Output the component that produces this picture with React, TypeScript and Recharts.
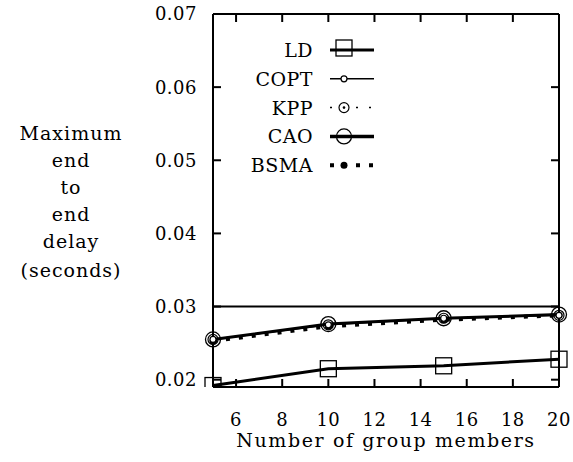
import { LineChart, Line, XAxis, YAxis, ReferenceLine } from "recharts";

const members = [5, 10, 15, 20];
const ld = [0.0192, 0.0215, 0.0219, 0.0228];
const copt = [0.0255, 0.0275, 0.0284, 0.0288];
const kpp = [0.0255, 0.0275, 0.0284, 0.0288];
const cao = [0.0255, 0.0276, 0.0284, 0.0289];
const bsma = [0.0253, 0.0273, 0.0282, 0.0288];

const xTicks = [6, 8, 10, 12, 14, 16, 18, 20];
const yTicks = [0.02, 0.03, 0.04, 0.05, 0.06, 0.07];
const yLabelLines = ["Maximum", "end", "to", "end", "delay", "(seconds)"];
const xTitle = "Number of group members";

const data = members.map((m, i) => ({
  m,
  ld: ld[i],
  copt: copt[i],
  kpp: kpp[i],
  cao: cao[i],
  bsma: bsma[i],
}));

const FONT = "'DejaVu Serif', serif";
const ink = "#000";

const squareDot = (p: any) => (
  <rect key={`sq-${p.index}`} x={p.cx - 8} y={p.cy - 8} width={16} height={16} fill="none" stroke={ink} strokeWidth={1.3} />
);
const smallCircle = (p: any) => (
  <circle key={`sc-${p.index}`} cx={p.cx} cy={p.cy} r={3} fill="#fff" stroke={ink} strokeWidth={1.2} />
);
const dotCircle = (p: any) => (
  <g key={`dc-${p.index}`}>
    <circle cx={p.cx} cy={p.cy} r={5} fill="none" stroke={ink} strokeWidth={1.2} />
    <circle cx={p.cx} cy={p.cy} r={1.3} fill={ink} />
  </g>
);
const bigCircle = (p: any) => (
  <circle key={`bc-${p.index}`} cx={p.cx} cy={p.cy} r={7.5} fill="none" stroke={ink} strokeWidth={1.3} />
);
const filledDot = (p: any) => (
  <circle key={`fd-${p.index}`} cx={p.cx} cy={p.cy} r={3.5} fill={ink} />
);

const legendRows = [
  { name: "LD", width: 3, dash: undefined as string | undefined, marker: "square" },
  { name: "COPT", width: 1.5, dash: undefined, marker: "small" },
  { name: "KPP", width: 1.5, dash: "2 11", marker: "dot" },
  { name: "CAO", width: 3.5, dash: undefined, marker: "big" },
  { name: "BSMA", width: 4, dash: "4 9", marker: "filled" },
];

function LegendBox() {
  return (
    <svg width={160} height={160} style={{ overflow: "visible" }}>
      {legendRows.map((r, i) => {
        const y = 20 + i * 28.8;
        const mx = 114;
        return (
          <g key={r.name}>
            <text x={83} y={y} textAnchor="end" dominantBaseline="central" fontFamily={FONT} fontSize={19} fill={ink} letterSpacing={0.5}>
              {r.name}
            </text>
            <line x1={100} x2={144} y1={y} y2={y} stroke={ink} strokeWidth={r.width} strokeDasharray={r.dash} />
            {r.marker === "square" && <rect x={mx - 8} y={y - 10} width={16} height={16} fill="none" stroke={ink} strokeWidth={1.3} />}
            {r.marker === "small" && <circle cx={mx} cy={y} r={3} fill="#fff" stroke={ink} strokeWidth={1.2} />}
            {r.marker === "dot" && (
              <g>
                <circle cx={mx} cy={y} r={5} fill="#fff" stroke={ink} strokeWidth={1.2} />
                <circle cx={mx} cy={y} r={1.3} fill={ink} />
              </g>
            )}
            {r.marker === "big" && <circle cx={mx} cy={y} r={7.5} fill="none" stroke={ink} strokeWidth={1.3} />}
            {r.marker === "filled" && <circle cx={mx} cy={y} r={3.5} fill={ink} />}
          </g>
        );
      })}
    </svg>
  );
}

function YTitle() {
  return (
    <text x={71} y={133} textAnchor="middle" fontFamily={FONT} fontSize={19} fill={ink} letterSpacing={1}>
      {yLabelLines.map((l, i) => (
        <tspan key={i} x={71} y={133 + i * 27 + (i === 5 ? 2 : 0)} dominantBaseline="central">
          {l}
        </tspan>
      ))}
    </text>
  );
}

const tickStyle = { fontFamily: FONT, fontSize: 18, fill: ink, letterSpacing: 0.5 };

export default function App() {
  return (
    <div style={{ position: "absolute", left: 0, top: 0, width: 573, height: 462, background: "#fff" }}>
      <LineChart width={573} height={462} data={data} margin={{ top: 13, right: 13, bottom: 0, left: 0 }}>
        <XAxis
          dataKey="m"
          type="number"
          domain={[5, 20]}
          ticks={xTicks}
          height={75}
          stroke={ink}
          strokeWidth={2}
          tickSize={-8}
          tickMargin={34}
          tick={tickStyle}
          label={{ value: xTitle, position: "insideBottom", offset: 15, style: { fontFamily: FONT, fontSize: 19, fill: ink, letterSpacing: 1.6 } }}
        />
        <XAxis
          xAxisId="top"
          orientation="top"
          dataKey="m"
          type="number"
          domain={[5, 20]}
          ticks={xTicks}
          height={1}
          stroke={ink}
          strokeWidth={2}
          tickSize={-8}
          tickFormatter={() => ""}
        />
        <YAxis
          type="number"
          domain={[0.019, 0.07]}
          ticks={yTicks}
          width={213}
          stroke={ink}
          strokeWidth={2}
          tickSize={-8}
          tickMargin={24}
          tick={tickStyle}
          allowDataOverflow
          label={{ content: () => <YTitle /> }}
        />
        <YAxis
          yAxisId="right"
          orientation="right"
          type="number"
          domain={[0.019, 0.07]}
          ticks={yTicks}
          width={1}
          stroke={ink}
          strokeWidth={2}
          tickSize={-8}
          tickFormatter={() => ""}
          allowDataOverflow
        />
        <ReferenceLine y={0.03} stroke={ink} strokeWidth={2} />
        <Line dataKey="ld" stroke={ink} strokeWidth={3} dot={squareDot} isAnimationActive={false} />
        <Line dataKey="bsma" stroke={ink} strokeWidth={4} strokeDasharray="4 9" dot={filledDot} isAnimationActive={false} />
        <Line dataKey="cao" stroke={ink} strokeWidth={3} dot={bigCircle} isAnimationActive={false} />
        <Line dataKey="kpp" stroke={ink} strokeWidth={1.5} strokeDasharray="2 11" dot={dotCircle} isAnimationActive={false} />
        <Line
          dataKey="copt"
          xAxisId="top"
          yAxisId="right"
          stroke={ink}
          strokeWidth={1.5}
          dot={smallCircle}
          isAnimationActive={false}
        />
      </LineChart>
      <div style={{ position: "absolute", left: 230, top: 30 }}>
        <LegendBox />
      </div>
    </div>
  );
}
